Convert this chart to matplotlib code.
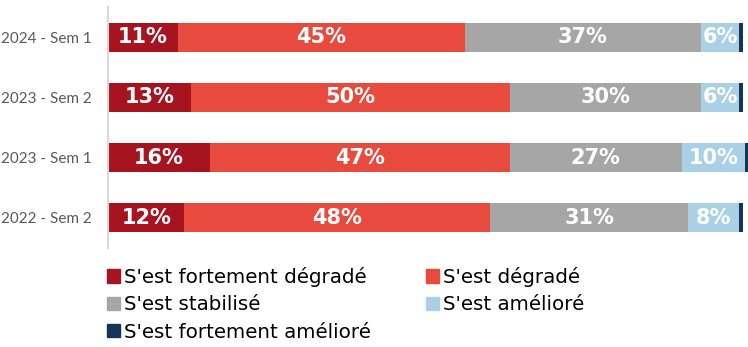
import numpy as np
import matplotlib.pyplot as plt
from matplotlib.patches import Patch

periods = ["2024 - Sem 1", "2023 - Sem 2", "2023 - Sem 1", "2022 - Sem 2"]
series = ["S'est fortement dégradé", "S'est dégradé", "S'est stabilisé",
          "S'est amélioré", "S'est fortement amélioré"]
fort_degrade = [11, 13, 16, 12]
degrade = [45, 50, 47, 48]
stabilise = [37, 30, 27, 31]
ameliore = [6, 6, 10, 8]
fort_ameliore = [0.6, 0.6, 0.4, 0.6]

colors = ["#A6141F", "#E84B3D", "#A6A6A6", "#A9D0E4", "#14355A"]
values = [fort_degrade, degrade, stabilise, ameliore, fort_ameliore]

fig = plt.figure(figsize=(7.48, 3.47), dpi=100)
ax = fig.add_axes([108 / 748, 99 / 347, 640 / 748, 241 / 347])

y = np.arange(len(periods))
left = np.zeros(len(periods))
for i, (vals, col) in enumerate(zip(values, colors)):
    vals = np.array(vals, dtype=float)
    ax.barh(y, vals, left=left, height=0.48, color=col)
    if i < 4:
        for yy, l, v in zip(y, left, vals):
            ax.text(l + v / 2, yy, f"{v:.0f}%", ha="center", va="center",
                    color="white", fontsize=15, fontweight="bold",
                    family="DejaVu Sans")
    left += vals

ax.set_xlim(0, left.max())
ax.set_ylim(3.5, -0.5)
ax.set_yticks(y)
ax.set_yticklabels(periods, fontsize=11, color="#595959", family="Lato")
ax.tick_params(axis="y", length=0, pad=12)
ax.set_xticks([])
for s in ["top", "right", "bottom"]:
    ax.spines[s].set_visible(False)
ax.spines["left"].set_color("#D9D9D9")
ax.spines["left"].set_linewidth(1.5)

# legend filled column by column: 3 entries left, 2 right
order = [0, 2, 4, 1, 3]
handles = [Patch(color=colors[i], label=series[i]) for i in order]
fig.legend(handles=handles, loc="upper left", bbox_to_anchor=(107 / 748, 1 - 267 / 347),
           ncol=2, frameon=False, handlelength=0.65, handleheight=0.65,
           handletextpad=0.2, labelspacing=0.42, columnspacing=2.8,
           borderaxespad=0, borderpad=0,
           prop={"family": "DejaVu Sans", "size": 14.3})

fig.savefig("out.png", dpi=100)
